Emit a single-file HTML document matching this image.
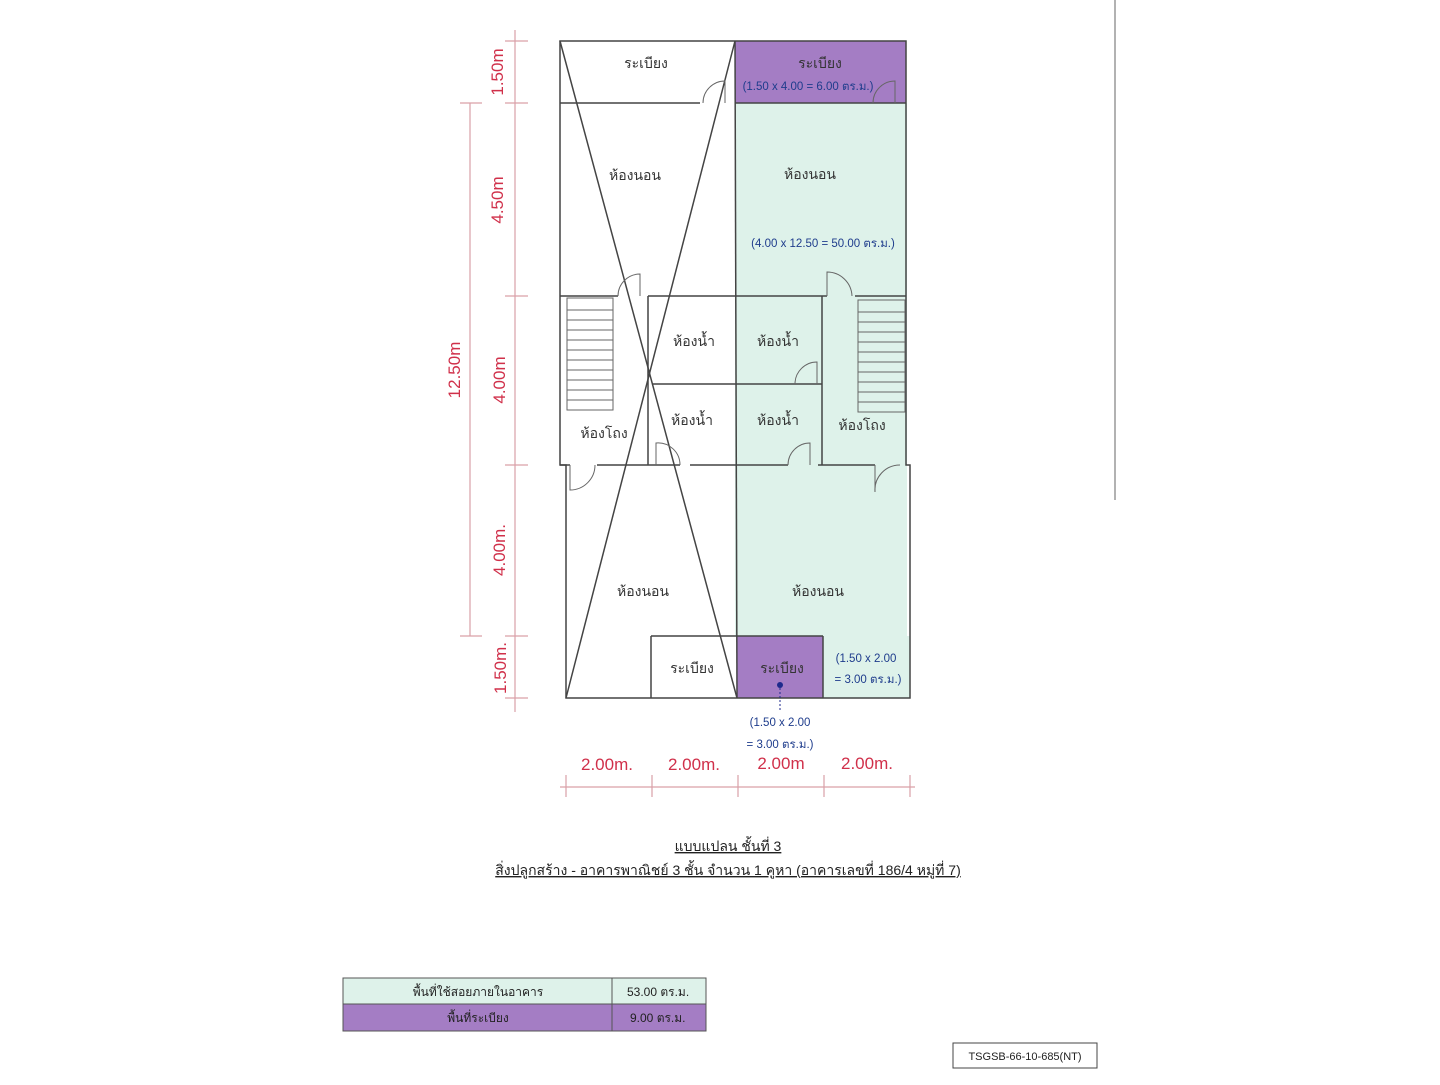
<!DOCTYPE html>
<html><head><meta charset="utf-8"><style>
body{margin:0;background:#fff;}
svg text{font-family:"Liberation Sans","Noto Sans CJK SC",sans-serif;}
</style></head><body>
<svg width="1440" height="1080" viewBox="0 0 1440 1080" xmlns="http://www.w3.org/2000/svg">
<rect width="1440" height="1080" fill="#fff"/>
<line x1="1115" y1="0" x2="1115" y2="500" stroke="#999" stroke-width="1.5"/>
<rect x="735" y="103" width="172" height="533" fill="#def2ea"/>
<rect x="823" y="636" width="87" height="62" fill="#def2ea"/>
<rect x="735" y="41" width="171" height="62" fill="#a47dc4"/>
<rect x="737" y="636" width="86" height="62" fill="#a47dc4"/>
<g stroke="#444" stroke-width="1.5" fill="none">
<path d="M560 41 H906 V465 L910 465 V698 H566 L566 465 H560 Z"/>
<line x1="560" y1="103" x2="700" y2="103"/><line x1="735" y1="103" x2="906" y2="103"/>
<line x1="735" y1="41" x2="737" y2="698"/>
<line x1="560" y1="296" x2="618" y2="296"/><line x1="648" y1="296" x2="827" y2="296"/><line x1="855" y1="296" x2="906" y2="296"/>
<line x1="648" y1="296" x2="648" y2="465"/>
<line x1="822" y1="296" x2="822" y2="465"/>
<line x1="652" y1="384" x2="822" y2="384"/>
<line x1="560" y1="465" x2="570" y2="465"/><line x1="597" y1="465" x2="680" y2="465"/><line x1="690" y1="465" x2="788" y2="465"/><line x1="818" y1="465" x2="875" y2="465"/>
<line x1="651" y1="636" x2="651" y2="698"/><line x1="823" y1="636" x2="823" y2="698"/>
<line x1="651" y1="636" x2="823" y2="636"/>
<line x1="560" y1="41" x2="737" y2="698"/>
<line x1="735" y1="41" x2="566" y2="698"/>
</g>
<g stroke="#666" stroke-width="1" fill="none">
<rect x="567" y="298" width="46" height="112"/><rect x="858" y="300" width="47" height="112"/>
<path d="M567 310H613M567 320H613M567 330H613M567 340H613M567 350H613M567 360H613M567 370H613M567 380H613M567 390H613M567 400H613"/>
<path d="M858 312H905M858 322H905M858 332H905M858 342H905M858 352H905M858 362H905M858 372H905M858 382H905M858 392H905M858 402H905"/>
<path d="M703 103 A22 22 0 0 1 725 81 V103 M873 103 A22 22 0 0 1 895 81 V103 M618 296 A22 22 0 0 1 640 274 V296 M827 296 V272 A25 25 0 0 1 852 296 M795 384 A22 22 0 0 1 817 362 V384 M656 465 V443 A22 22 0 0 1 680 465 M788 465 A22 22 0 0 1 810 443 V465 M570 465 V490 A25 25 0 0 0 595 465 M875 465 V492 A25 25 0 0 1 900 465"/>
</g>
<g stroke="#d9a0a8" stroke-width="1.2">
<line x1="515" y1="30" x2="515" y2="712"/><line x1="470" y1="103" x2="470" y2="636"/>
<path d="M505 41H528M505 103H528M505 296H528M505 465H528M505 636H528M505 698H528M460 103H482M460 636H482"/>
<line x1="560" y1="787" x2="915" y2="787"/>
<path d="M566 775V797M652 775V797M738 775V797M824 775V797M910 775V797"/>
</g>
<g fill="#d0304a" font-size="17">
<text transform="translate(503,72) rotate(-90)" text-anchor="middle">1.50m</text>
<text transform="translate(503,200) rotate(-90)" text-anchor="middle">4.50m</text>
<text transform="translate(505,380) rotate(-90)" text-anchor="middle">4.00m</text>
<text transform="translate(505,550) rotate(-90)" text-anchor="middle">4.00m.</text>
<text transform="translate(506,668) rotate(-90)" text-anchor="middle">1.50m.</text>
<text transform="translate(460,370) rotate(-90)" text-anchor="middle">12.50m</text>
<text x="607" y="770" text-anchor="middle">2.00m.</text>
<text x="694" y="770" text-anchor="middle">2.00m.</text>
<text x="781" y="769" text-anchor="middle">2.00m</text>
<text x="867" y="769" text-anchor="middle">2.00m.</text>
</g>
<g fill="#333" font-size="14" text-anchor="middle">
<text x="646" y="68">ระเบียง</text><text x="820" y="68">ระเบียง</text>
<text x="635" y="180">ห้องนอน</text><text x="810" y="179">ห้องนอน</text>
<text x="694" y="346">ห้องน้ำ</text><text x="778" y="346">ห้องน้ำ</text>
<text x="692" y="425">ห้องน้ำ</text><text x="778" y="425">ห้องน้ำ</text>
<text x="604" y="438">ห้องโถง</text><text x="862" y="430">ห้องโถง</text>
<text x="643" y="596">ห้องนอน</text><text x="818" y="596">ห้องนอน</text>
<text x="692" y="673">ระเบียง</text><text x="782" y="673">ระเบียง</text>
</g>
<g fill="#1e3c8c" font-size="11.5" text-anchor="middle">
<text x="808" y="90">(1.50 x 4.00 = 6.00 ตร.ม.)</text>
<text x="823" y="247">(4.00 x 12.50 = 50.00 ตร.ม.)</text>
<text x="866" y="662">(1.50 x 2.00</text><text x="868" y="683">= 3.00 ตร.ม.)</text>
<text x="780" y="726">(1.50 x 2.00</text><text x="780" y="748">= 3.00 ตร.ม.)</text>
</g>
<circle cx="780" cy="685" r="3" fill="#1e2a8c"/>
<line x1="780" y1="688" x2="780" y2="712" stroke="#1e2a8c" stroke-dasharray="2,2"/>
<g fill="#222" font-size="14" text-anchor="middle" text-decoration="underline">
<text x="728" y="851">แบบแปลน  ชั้นที่ 3</text>
<text x="728" y="875">สิ่งปลูกสร้าง - อาคารพาณิชย์ 3 ชั้น จำนวน 1 คูหา (อาคารเลขที่ 186/4 หมู่ที่ 7)</text>
</g>
<rect x="343" y="978" width="363" height="26" fill="#def2ea" stroke="#555"/>
<rect x="343" y="1004" width="363" height="27" fill="#a47dc4" stroke="#555"/>
<line x1="612" y1="978" x2="612" y2="1031" stroke="#555"/>
<g font-size="12" fill="#222">
<text x="478" y="996" text-anchor="middle">พื้นที่ใช้สอยภายในอาคาร</text>
<text x="478" y="1022" text-anchor="middle">พื้นที่ระเบียง</text>
<text x="627" y="996">53.00 ตร.ม.</text>
<text x="630" y="1022">9.00 ตร.ม.</text>
</g>
<rect x="953" y="1043" width="144" height="25" fill="#fff" stroke="#444"/>
<text x="1025" y="1060" font-size="11" text-anchor="middle" fill="#222">TSGSB-66-10-685(NT)</text>
</svg>
</body></html>
